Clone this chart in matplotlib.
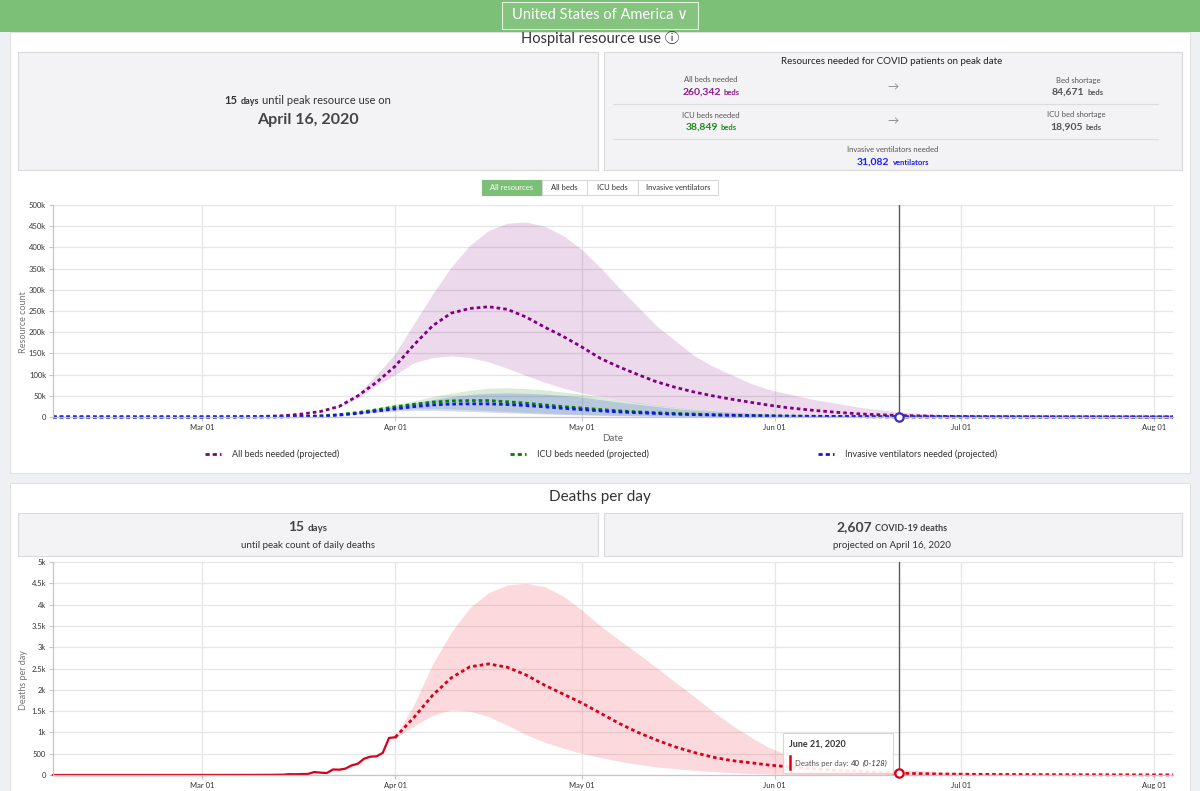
import numpy as np
import pandas as pd
import matplotlib
matplotlib.use('Agg')
import matplotlib.pyplot as plt
import matplotlib.dates as mdates
from matplotlib.patches import Rectangle
from matplotlib.lines import Line2D
from matplotlib.ticker import FuncFormatter, MultipleLocator

plt.rcParams['font.family'] = ['Lato', 'DejaVu Sans']

# ---- data (hospital values in thousands) ----
hosp_dates = ['2020-02-06', '2020-03-01', '2020-03-10', '2020-03-14', '2020-03-17', '2020-03-20',
              '2020-03-23', '2020-03-26', '2020-03-29', '2020-04-01', '2020-04-04', '2020-04-07',
              '2020-04-10', '2020-04-13', '2020-04-16', '2020-04-19', '2020-04-22', '2020-04-25',
              '2020-04-28', '2020-05-01', '2020-05-04', '2020-05-07', '2020-05-10', '2020-05-13',
              '2020-05-16', '2020-05-19', '2020-05-22', '2020-05-25', '2020-05-28', '2020-05-31',
              '2020-06-03', '2020-06-07', '2020-06-11', '2020-06-15', '2020-06-21', '2020-06-28',
              '2020-07-05', '2020-07-15', '2020-08-04']
all_beds_mean = [0, 0, 1, 3, 7, 13, 25, 50, 82, 120, 170, 215, 245, 256, 260, 254, 236, 212, 190,
                 165, 138, 118, 100, 83, 70, 59, 50, 42, 35, 28, 22, 16, 11, 7, 3.5, 1.5, 1, 0.5, 0.2]
all_beds_high = [0, 0, 1, 3, 7, 13, 26, 55, 100, 150, 220, 290, 354, 405, 440, 457, 460, 450, 428,
                 395, 352, 305, 260, 215, 180, 145, 120, 100, 80, 65, 55, 42, 32, 22, 12, 5, 2, 1, 0.3]
all_beds_low = [0, 0, 1, 3, 7, 13, 23, 45, 75, 100, 128, 140, 144, 140, 130, 115, 98, 82, 68,
                57, 48, 40, 33, 27, 22, 17, 13, 10, 7.5, 5.5, 4, 2.8, 1.8, 1.2, 0.6, 0.3, 0.2, 0.1, 0]
icu_mean = [0, 0, 0.2, 0.5, 1.2, 2.5, 5.5, 10.5, 17, 24, 30, 35, 38, 38.8, 38.8, 36, 32.5, 28.5, 24.5,
            21, 17.5, 14.5, 12, 10, 8.3, 6.8, 5.5, 4.5, 3.6, 2.9, 2.3, 1.7, 1.2, 0.8, 0.4, 0.2, 0.1, 0.05, 0]
icu_high = [0, 0, 0.2, 0.5, 1.2, 2.5, 5.5, 12, 22, 30, 38, 48, 56, 63, 68, 69, 67, 64, 59,
            54, 47, 40, 34, 28, 23, 18, 14.5, 11.5, 9, 7, 5.5, 4, 3, 2, 1, 0.5, 0.3, 0.1, 0]
icu_low = [0, 0, 0.2, 0.5, 1.2, 2.5, 5.5, 9, 14, 18, 20, 20, 19, 17, 15, 13, 11, 9, 7.5,
           6, 4.8, 3.8, 3, 2.3, 1.8, 1.4, 1.1, 0.8, 0.6, 0.5, 0.4, 0.3, 0.2, 0.1, 0.05, 0, 0, 0, 0]
vent_mean = [0, 0, 0.15, 0.4, 1, 2, 4.5, 8.5, 14, 19, 24.5, 28.5, 30.5, 31.1, 31, 29.5, 27, 24, 20.5,
             17.5, 14.5, 12, 10, 8.3, 6.8, 5.6, 4.6, 3.7, 3, 2.4, 1.9, 1.4, 1, 0.7, 0.35, 0.15, 0.1, 0.05, 0]
vent_high = [0, 0, 0.15, 0.4, 1, 2, 4.5, 10, 18, 25, 33, 41, 48, 53, 56, 57, 56, 54, 51,
             47, 41, 35, 30, 25, 20, 16, 13, 10, 8, 6, 4.8, 3.5, 2.5, 1.7, 0.9, 0.4, 0.2, 0.1, 0]
vent_low = [0, 0, 0.15, 0.4, 1, 2, 4.5, 7.5, 11, 14, 15.5, 15.5, 14.5, 13, 11.5, 10, 8.5, 7, 5.8,
            4.7, 3.8, 3, 2.4, 1.8, 1.4, 1.1, 0.85, 0.65, 0.5, 0.4, 0.3, 0.2, 0.15, 0.1, 0.05, 0, 0, 0, 0]

obs_dates = ['2020-02-06', '2020-02-20', '2020-03-01', '2020-03-06', '2020-03-10', '2020-03-12',
             '2020-03-13', '2020-03-14', '2020-03-15', '2020-03-16', '2020-03-17', '2020-03-18',
             '2020-03-19', '2020-03-20', '2020-03-21', '2020-03-22', '2020-03-23', '2020-03-24',
             '2020-03-25', '2020-03-26', '2020-03-27', '2020-03-28', '2020-03-29', '2020-03-30',
             '2020-03-31', '2020-04-01']
obs_deaths = [0, 0, 1, 2, 3, 4, 6, 8, 20, 18, 22, 25, 70, 55, 47, 130, 125, 150, 225, 265,
              383, 430, 438, 520, 870, 885]

death_dates = ['2020-04-01', '2020-04-04', '2020-04-07', '2020-04-10', '2020-04-13', '2020-04-16',
               '2020-04-19', '2020-04-22', '2020-04-25', '2020-04-28', '2020-05-01', '2020-05-04',
               '2020-05-07', '2020-05-10', '2020-05-13', '2020-05-16', '2020-05-19', '2020-05-22',
               '2020-05-25', '2020-05-28', '2020-05-31', '2020-06-03', '2020-06-07', '2020-06-11',
               '2020-06-15', '2020-06-21', '2020-06-28', '2020-07-05', '2020-07-15', '2020-08-04']
death_mean = [885, 1350, 1870, 2280, 2540, 2607, 2530, 2350, 2110, 1900, 1690, 1450, 1210, 1000,
              820, 660, 530, 420, 340, 290, 235, 195, 150, 110, 80, 40, 22, 14, 8, 3]
death_high = [900, 1650, 2600, 3350, 3930, 4280, 4460, 4500, 4420, 4200, 3870, 3500, 3170, 2850,
              2520, 2180, 1850, 1500, 1180, 900, 650, 470, 330, 240, 180, 128, 70, 40, 20, 6]
death_low = [870, 1150, 1400, 1530, 1500, 1370, 1170, 950, 770, 630, 510, 410, 320, 250,
             190, 150, 110, 80, 55, 38, 25, 15, 8, 4, 2, 0, 0, 0, 0, 0]

cursor_date = '2020-06-21'
cursor_vent = 0.35
cursor_deaths = 40

PURPLE = '#800080'
GREEN = '#008000'
BLUE = '#1414f0'
RED = '#d9001b'
HEADER = '#7cbf77'

W, H = 1200, 791
fig = plt.figure(figsize=(12, 7.91), dpi=100)
fig.patch.set_facecolor('#eef0f3')


def fx(x):
    return x / W


def fy(y):
    return 1 - y / H


def box(x0, y0, x1, y1, fc, ec='none', lw=0.8, z=-5):
    fig.add_artist(Rectangle((fx(x0), fy(y1)), fx(x1) - fx(x0), fy(y0) - fy(y1),
                             transform=fig.transFigure, fc=fc, ec=ec, lw=lw, zorder=z))


def txt(x, y, s, size=7, color='#333333', **kw):
    kw.setdefault('ha', 'center')
    kw.setdefault('va', 'center')
    return fig.text(fx(x), fy(y), s, fontsize=size, color=color, zorder=20, **kw)


renderer = fig.canvas.get_renderer()


def runs(x, y, parts, gap=3, align='center'):
    # several text pieces with different sizes on one baseline
    items = []
    for s, size, weight, color, style in parts:
        t = fig.text(0, fy(y), s, fontsize=size, fontweight=weight, color=color,
                     fontstyle=style, ha='left', va='baseline', zorder=20)
        items.append((t, t.get_window_extent(renderer).width))
    total = sum(w for _, w in items) + gap * (len(items) - 1)
    x0 = x - total / 2 if align == 'center' else x
    for t, w in items:
        t.set_x(fx(x0))
        x0 += w + gap


# ---- page frame ----
box(0, 0, 1200, 32, HEADER, z=-4)
box(502, 2, 698, 29, '#84c47f', ec='#e3f1e1', lw=0.8, z=-3)
txt(600, 15, 'United States of America \u2228', size=10.5, color='white')

box(10, 32, 1190, 473, 'white', ec='#e1e1e1')
box(10, 483, 1190, 800, 'white', ec='#e1e1e1')

txt(600, 38, 'Hospital resource use \u24d8', size=10.5, color='#333333',
    family=['Lato', 'DejaVu Sans', 'Noto Sans CJK SC'])

# stat boxes, hospital
box(18, 52, 598, 170, '#f3f3f5', ec='#dadada', z=-3)
box(604, 52, 1182, 170, '#f3f3f5', ec='#dadada', z=-3)
runs(308, 104, [('15', 8, 'bold', '#333333', 'normal'),
                ('days', 6.5, 'bold', '#333333', 'normal'),
                ('until peak resource use on', 8, 'normal', '#333333', 'normal')])
txt(308, 120, 'April 16, 2020', size=11.5, color='#444444', fontweight='bold')

txt(892, 62, 'Resources needed for COVID patients on peak date', size=7, color='#222222')
txt(711, 80, 'All beds needed', size=5.5, color='#555555')
runs(711, 95, [('260,342', 7.5, 'bold', '#8b1a89', 'normal'), ('beds', 5.5, 'bold', '#8b1a89', 'normal')])
txt(1078, 80, 'Bed shortage', size=5.5, color='#555555')
runs(1078, 95, [('84,671', 7.5, 'bold', '#555555', 'normal'), ('beds', 5.5, 'bold', '#555555', 'normal')])
txt(893, 87, '\u2192', size=8, color='#888888')
fig.add_artist(Line2D([fx(613), fx(1158)], [fy(104), fy(104)], color='#dcdcdc', lw=0.8, zorder=-2))
txt(711, 115, 'ICU beds needed', size=5.5, color='#555555')
runs(711, 130, [('38,849', 7.5, 'bold', '#1a8a1a', 'normal'), ('beds', 5.5, 'bold', '#1a8a1a', 'normal')])
txt(1076, 115, 'ICU bed shortage', size=5.5, color='#555555')
runs(1076, 130, [('18,905', 7.5, 'bold', '#555555', 'normal'), ('beds', 5.5, 'bold', '#555555', 'normal')])
txt(893, 121, '\u2192', size=8, color='#888888')
fig.add_artist(Line2D([fx(613), fx(1158)], [fy(139), fy(139)], color='#dcdcdc', lw=0.8, zorder=-2))
txt(893, 150, 'Invasive ventilators needed', size=5.5, color='#555555')
runs(893, 165, [('31,082', 7.5, 'bold', '#1a1aff', 'normal'), ('ventilators', 5.5, 'bold', '#1a1aff', 'normal')])

# button group
buttons = [('All resources', 482, 542), ('All beds', 542, 587), ('ICU beds', 587, 638),
           ('Invasive ventilators', 638, 718)]
for i, (label, x0, x1) in enumerate(buttons):
    if i == 0:
        box(x0, 180, x1, 195, HEADER, ec=HEADER, z=-3)
        txt((x0 + x1) / 2, 187.5, label, size=5.5, color='white')
    else:
        box(x0, 180, x1, 195, 'white', ec='#d8d8d8', z=-3)
        txt((x0 + x1) / 2, 187.5, label, size=5.5, color='#333333')

# stat boxes, deaths
txt(600, 497, 'Deaths per day', size=11, color='#333333')
box(18, 513, 598, 556, '#f3f3f5', ec='#dadada', z=-3)
box(604, 513, 1182, 556, '#f3f3f5', ec='#dadada', z=-3)
runs(308, 531, [('15', 10, 'bold', '#444444', 'normal'), ('days', 7, 'bold', '#444444', 'normal')])
txt(308, 546, 'until peak count of daily deaths', size=7, color='#333333')
runs(892, 531, [('2,607', 10, 'bold', '#444444', 'normal'),
                ('COVID-19 deaths', 6.5, 'bold', '#444444', 'normal')])
txt(892, 546, 'projected on April 16, 2020', size=7, color='#333333')

# ---- charts ----
dash = (0, (1.3, 1.1))
xmin, xmax = pd.Timestamp('2020-02-06'), pd.Timestamp('2020-08-04')


def style_axes(ax, step, fmt):
    ax.set_facecolor('white')
    ax.set_xlim(xmin, xmax)
    ax.xaxis.set_major_locator(mdates.MonthLocator(bymonth=[3, 4, 5, 6, 7, 8]))
    ax.xaxis.set_major_formatter(mdates.DateFormatter('%b %d'))
    ax.yaxis.set_major_locator(MultipleLocator(step))
    ax.yaxis.set_major_formatter(FuncFormatter(fmt))
    ax.grid(True, color='#e6e6e6', lw=0.9)
    ax.set_axisbelow(True)
    for s in ['top', 'right']:
        ax.spines[s].set_visible(False)
    for s in ['left', 'bottom']:
        ax.spines[s].set_color('#c6c6c6')
        ax.spines[s].set_linewidth(0.9)
    ax.tick_params(labelsize=5.5, labelcolor='#333333', color='#c6c6c6', length=3, width=0.8, pad=2)


hd = pd.to_datetime(hosp_dates)
k = 1000.0
ax1 = fig.add_axes([fx(53), fy(417), fx(1173) - fx(53), fy(205) - fy(417)])
style_axes(ax1, 50000, lambda v, p: '0' if v == 0 else f'{int(v / 1000)}k')
ax1.set_ylim(0, 500000)
ax1.fill_between(hd, np.array(all_beds_low) * k, np.array(all_beds_high) * k, color=PURPLE, alpha=0.15, lw=0)
ax1.fill_between(hd, np.array(icu_low) * k, np.array(icu_high) * k, color=GREEN, alpha=0.15, lw=0)
ax1.fill_between(hd, np.array(vent_low) * k, np.array(vent_high) * k, color=BLUE, alpha=0.17, lw=0)
ax1.plot(hd, np.array(all_beds_mean) * k, color=PURPLE, lw=2, ls=dash, clip_on=False)
ax1.plot(hd, np.array(icu_mean) * k, color=GREEN, lw=2, ls=dash, clip_on=False)
ax1.plot(hd, np.array(vent_mean) * k, color=BLUE, lw=2, ls=dash, clip_on=False)
ax1.axvline(pd.Timestamp(cursor_date), color='#5a5a5a', lw=1)
ax1.plot([pd.Timestamp(cursor_date)], [cursor_vent * k], 'o', mfc='white', mec='#3a2fb8', ms=6, mew=1.6,
         clip_on=False, zorder=5)
ax1.set_xlabel('Date', fontsize=7, color='#666666', labelpad=2)
txt(24, 322, 'Resource count', size=6.5, color='#777777', rotation=90)

# legend row
legend = [('All beds needed (projected)', PURPLE, 205), ('ICU beds needed (projected)', GREEN, 510),
          ('Invasive ventilators needed (projected)', BLUE, 818)]
for label, c, x0 in legend:
    fig.add_artist(Line2D([fx(x0), fx(x0 + 16)], [fy(454), fy(454)], color=c, lw=2,
                          ls=(0, (1.5, 1.1)), zorder=20))
    txt(x0 + 27, 454, label, size=6.5, color='#333333', ha='left')

ax2 = fig.add_axes([fx(53), fy(775), fx(1173) - fx(53), fy(562) - fy(775)])
style_axes(ax2, 500, lambda v, p: f'{int(v)}' if v < 1000 else f'{v / 1000:g}k')
ax2.set_ylim(0, 5000)
dd = pd.to_datetime(death_dates)
ax2.fill_between(dd, death_low, death_high, color='#f2303f', alpha=0.18, lw=0)
ax2.plot(pd.to_datetime(obs_dates), obs_deaths, color=RED, lw=1.6, clip_on=False)
ax2.plot(dd, death_mean, color=RED, lw=2, ls=dash, clip_on=False)
ax2.axvline(pd.Timestamp(cursor_date), color='#5a5a5a', lw=1)
ax2.plot([pd.Timestamp(cursor_date)], [cursor_deaths], 'o', mfc='white', mec=RED, ms=6, mew=1.6,
         clip_on=False, zorder=5)
txt(24, 680, 'Deaths per day', size=6.5, color='#777777', rotation=90)

# tooltip
box(783, 733, 893, 773, (1, 1, 1, 0.9), ec='#d6d6d6', z=15)
txt(789, 744, 'June 21, 2020', size=6.5, color='#333333', ha='left', fontweight='bold')
fig.add_artist(Line2D([fx(790.5), fx(790.5)], [fy(756), fy(769)], color=RED, lw=1.8, zorder=20))
runs(795, 766, [('Deaths per day:', 5.6, 'normal', '#555555', 'normal'),
                ('40', 5.6, 'normal', '#333333', 'normal'),
                ('(0-128)', 5.6, 'normal', '#333333', 'italic')], gap=2.5, align='left')

fig.savefig('out.png', dpi=100, facecolor=fig.get_facecolor())
